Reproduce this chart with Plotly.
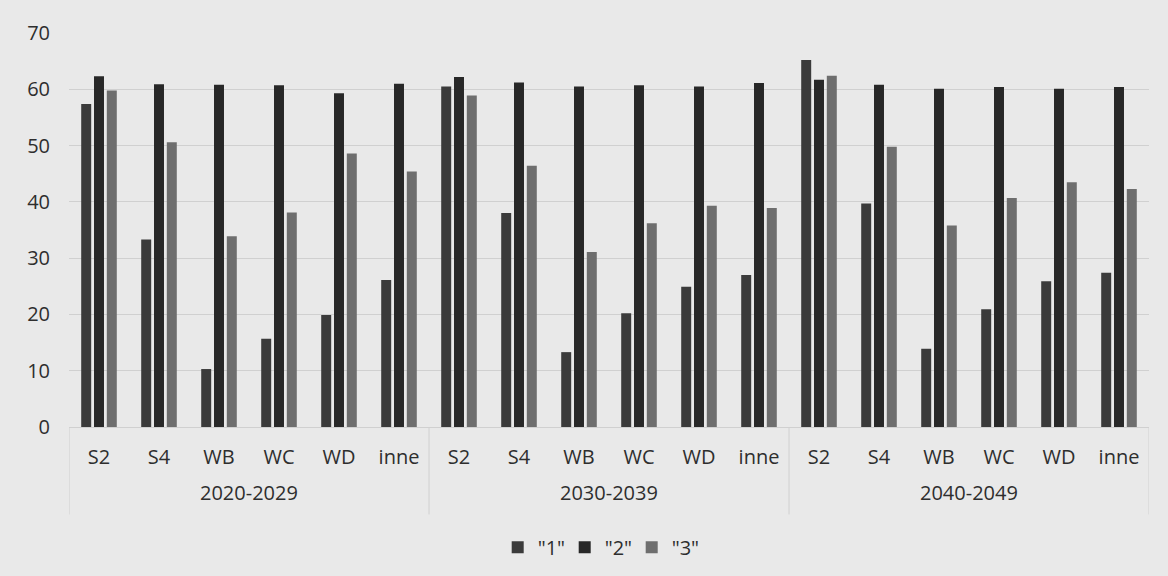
import plotly.graph_objects as go

periods = ["2020-2029", "2030-2039", "2040-2049"]
categories = ["S2", "S4", "WB", "WC", "WD", "inne"]
series_names = ['"1"', '"2"', '"3"']

s1 = [57.4, 33.3, 10.3, 15.7, 19.9, 26.1,
      60.5, 38.0, 13.3, 20.2, 24.9, 27.0,
      65.2, 39.7, 13.9, 20.9, 25.9, 27.4]
s2 = [62.3, 60.9, 60.8, 60.7, 59.3, 61.0,
      62.2, 61.2, 60.5, 60.7, 60.5, 61.1,
      61.7, 60.8, 60.1, 60.4, 60.1, 60.4]
s3 = [59.8, 50.6, 33.9, 38.1, 48.6, 45.4,
      58.9, 46.4, 31.1, 36.2, 39.3, 38.9,
      62.4, 49.8, 35.8, 40.7, 43.5, 42.3]

colors = ["#3b3b3b", "#282828", "#6e6e6e"]
line_col = "#d0d0d0"
text_col = "#2e2e2e"

n_cat = len(categories)
x_pos = list(range(n_cat * len(periods)))
tick_text = [c for _ in periods for c in categories]

fig = go.Figure()
for name, vals, col in zip(series_names, [s1, s2, s3], colors):
    fig.add_trace(go.Bar(x=x_pos, y=vals, name=name,
                         marker=dict(color=col, line=dict(width=0))))

# group labels and dividers
for g, period in enumerate(periods):
    fig.add_annotation(x=g * n_cat + (n_cat - 1) / 2, y=-0.165, xref="x", yref="paper",
                       text=period, showarrow=False, yanchor="middle",
                       font=dict(size=20, color=text_col))
for g in range(len(periods) + 1):
    fig.add_shape(type="line", x0=g * n_cat - 0.5, x1=g * n_cat - 0.5, xref="x",
                  y0=0, y1=-0.222, yref="paper", line=dict(color=line_col, width=1))

fig.update_layout(
    width=1168, height=576,
    paper_bgcolor="#e9e9e9", plot_bgcolor="#e9e9e9",
    margin=dict(l=69, r=19, t=33, b=149, autoexpand=False),
    barmode="group", bargap=0.36, bargroupgap=0.22,
    font=dict(family="Open Sans, Lato, sans-serif", size=20, color=text_col),
    legend=dict(orientation="h", x=0.49, xanchor="center", y=-0.305, yanchor="middle",
                font=dict(size=20), itemwidth=30, entrywidth=22, traceorder="normal"),
    showlegend=True,
)
fig.update_yaxes(range=[0, 70], dtick=10, showgrid=True, gridcolor=line_col,
                 gridwidth=1, zeroline=False, showline=False, ticks="",
                 ticklabelstandoff=18, tickfont=dict(size=20, color=text_col))
fig.update_xaxes(range=[-0.5, len(x_pos) - 0.5], tickvals=x_pos, ticktext=tick_text,
                 showgrid=False, zeroline=False, showline=True, linecolor=line_col,
                 ticks="", ticklabelstandoff=12, tickfont=dict(size=20, color=text_col))

fig.write_html("out.html", config={"displayModeBar": False},
               post_script="document.body.style.margin='0';document.body.style.overflow='hidden';")
